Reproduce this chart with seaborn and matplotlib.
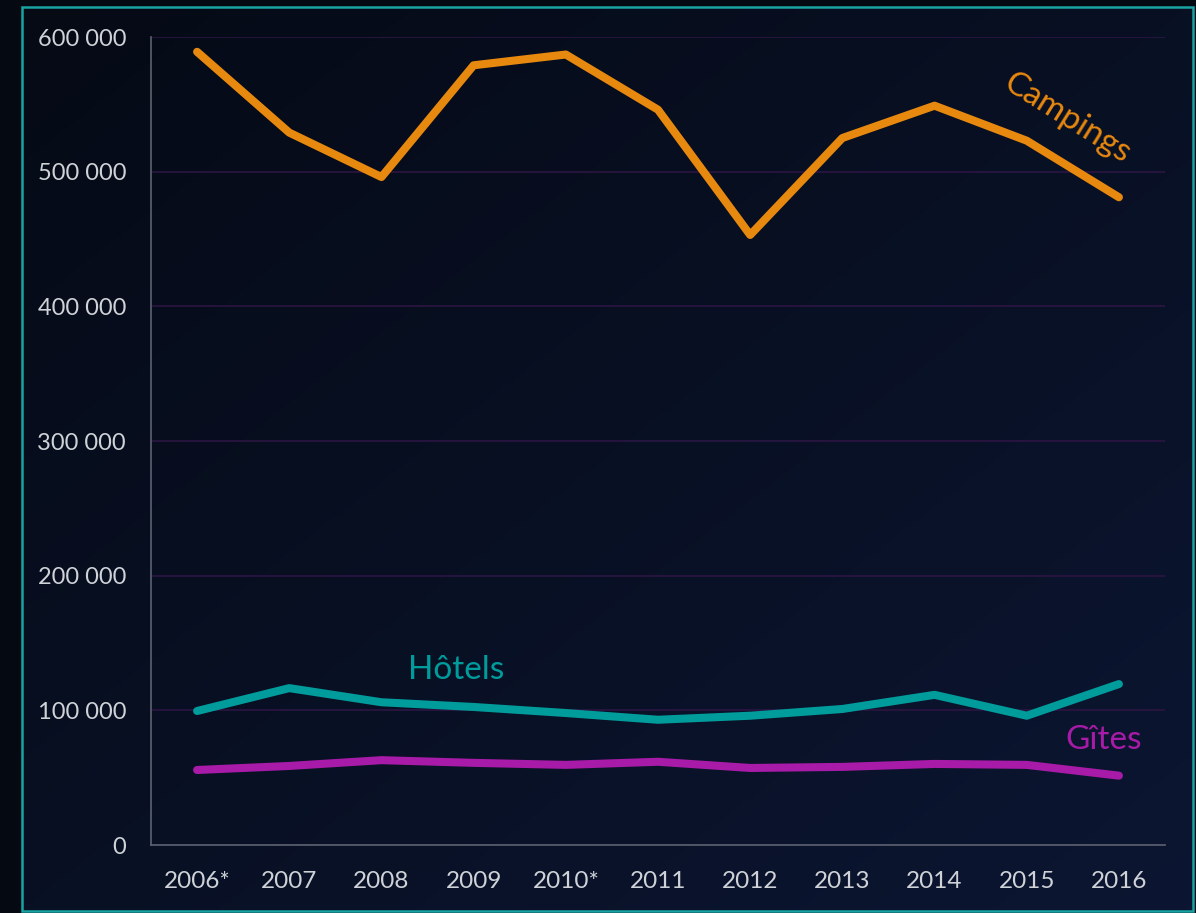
import matplotlib
matplotlib.use("Agg")
import matplotlib.pyplot as plt
import seaborn as sns
import numpy as np
import pandas as pd
from matplotlib.patches import Rectangle
from matplotlib.ticker import FuncFormatter

years = ["2006*", "2007", "2008", "2009", "2010*", "2011", "2012", "2013", "2014", "2015", "2016"]
campings = [589000, 529000, 496000, 579000, 587000, 546000, 453000, 525000, 549000, 523000, 481000]
hotels = [99500, 116500, 106000, 102500, 98000, 93000, 96000, 101000, 111500, 96000, 119500]
gites = [55700, 58700, 63000, 61000, 59500, 61800, 57200, 58000, 60200, 59500, 51500]

colors = {"Campings": "#e8890f", "Hôtels": "#009c9c", "Gîtes": "#a81ba8"}

df = pd.DataFrame({
    "annee": years * 3,
    "pos": list(range(len(years))) * 3,
    "nuitees": campings + hotels + gites,
    "type": ["Campings"] * len(years) + ["Hôtels"] * len(years) + ["Gîtes"] * len(years),
})

sns.set_style("dark")
plt.rcParams["font.family"] = ["Lato", "DejaVu Sans"]

fig = plt.figure(figsize=(11.96, 9.13), dpi=100)
fig.patch.set_facecolor("#040912")

# fond en dégradé
bg = fig.add_axes([22 / 1196, 1 - 911 / 913, (1193 - 22) / 1196, (911 - 7) / 913], zorder=-1)
xx, yy = np.meshgrid(np.linspace(0, 1, 200), np.linspace(0, 1, 200))
t = (xx + yy) / 2
c0 = np.array([5, 10, 21]) / 255
c1 = np.array([12, 22, 50]) / 255
img = c0[None, None, :] * (1 - t[..., None]) + c1[None, None, :] * t[..., None]
bg.imshow(img, aspect="auto", extent=[0, 1, 0, 1], origin="upper")
bg.set_axis_off()

fig.patches.append(Rectangle((22 / 1196, 1 - 911 / 913), (1193 - 22) / 1196, (911 - 7) / 913,
                             transform=fig.transFigure, fill=False, edgecolor="#1aa3a3", linewidth=1.8))

ax = fig.add_axes([151 / 1196, 1 - 845 / 913, (1165 - 151) / 1196, (845 - 37) / 913])
ax.set_facecolor("none")

sns.lineplot(data=df, x="pos", y="nuitees", hue="type", palette=colors, linewidth=5.8,
             legend=False, ax=ax, solid_capstyle="round", clip_on=False)

ax.set_xlim(-0.5, len(years) - 0.5)
ax.set_ylim(0, 600000)
ax.set_yticks(range(0, 600001, 100000))
ax.yaxis.set_major_formatter(FuncFormatter(lambda v, p: f"{int(v):,}".replace(",", " ")))
ax.set_xticks(range(len(years)))
ax.set_xticklabels(years)
ax.set_xticks(np.arange(-0.5, len(years)), minor=True)
ax.tick_params(axis="x", which="major", length=0, pad=19, labelsize=17.5, labelcolor="#cfd3d8")
ax.tick_params(axis="x", which="minor", length=8, width=1.2, color="#5b6270", direction="out")
ax.tick_params(axis="y", length=8, width=1.2, color="#5b6270", pad=10, labelsize=17, labelcolor="#cfd3d8")
ax.set_xlabel("")
ax.set_ylabel("")

ax.grid(False)
ax.yaxis.grid(True, color="#2c1543", linewidth=1.2)
ax.set_axisbelow(True)
for side in ["top", "right"]:
    ax.spines[side].set_visible(False)
for side in ["left", "bottom"]:
    ax.spines[side].set_visible(True)
    ax.spines[side].set_color("#5b6270")
    ax.spines[side].set_linewidth(1.2)

ax.text(9.44, 540000, "Campings", color=colors["Campings"], fontsize=24, rotation=-32,
        ha="center", va="center", rotation_mode="anchor")
ax.text(2.81, 130000, "Hôtels", color=colors["Hôtels"], fontsize=24, ha="center", va="center")
ax.text(9.83, 78000, "Gîtes", color=colors["Gîtes"], fontsize=24, ha="center", va="center")

fig.savefig("out.png", dpi=100, facecolor=fig.get_facecolor())
